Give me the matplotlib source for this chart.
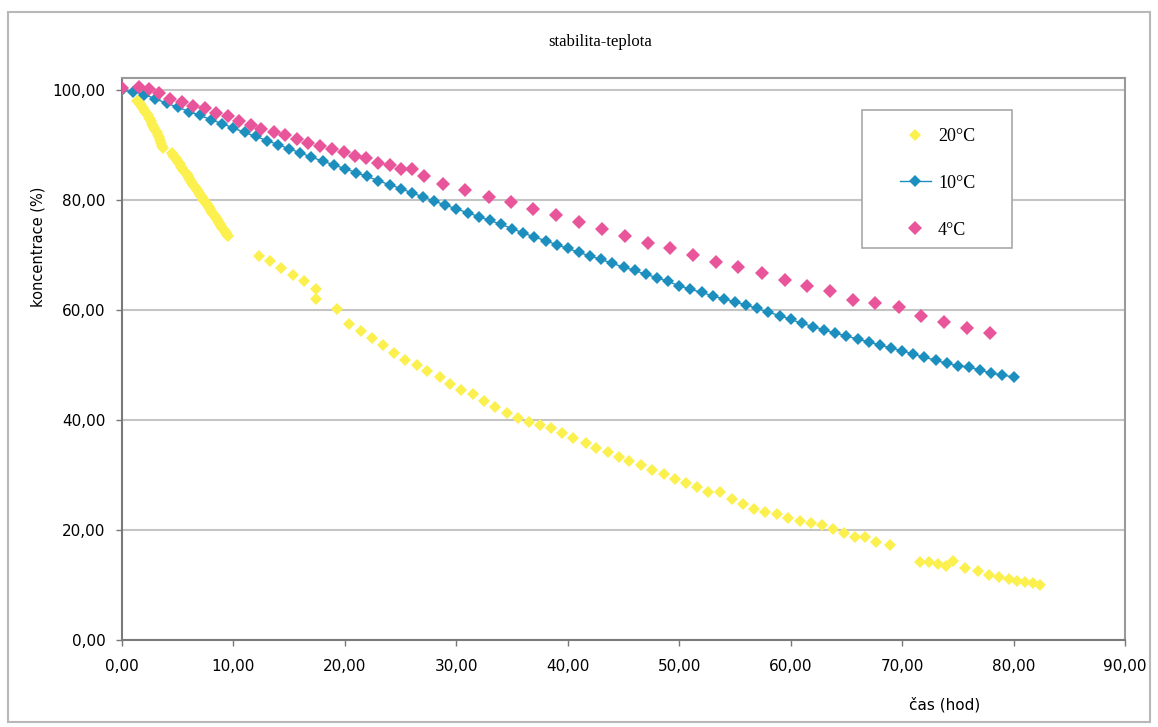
import matplotlib
matplotlib.use('Agg')
import matplotlib.pyplot as plt
from matplotlib.patches import Rectangle
from matplotlib.ticker import FuncFormatter

# 20 °C - fast decay, sampled densely in the first hours
t20 = [0.0,
       1.3, 1.4, 1.5, 1.6, 1.7, 1.8, 1.9, 2.0, 2.1, 2.2, 2.3, 2.4, 2.5,
       2.6, 2.7, 2.8, 2.9, 3.0, 3.1, 3.2, 3.3, 3.4, 3.5, 3.6, 3.7,
       4.5, 4.6, 4.7, 4.8, 4.9, 5.0, 5.1, 5.2, 5.3, 5.4, 5.5, 5.6, 5.7,
       5.8, 5.9, 6.0, 6.1, 6.2, 6.3, 6.4, 6.5, 6.6, 6.7, 6.8, 6.9, 7.0,
       7.1, 7.2, 7.3, 7.4, 7.5, 7.6, 7.7, 7.8, 7.9, 8.0, 8.1, 8.2, 8.3,
       8.4, 8.5, 8.6, 8.7, 8.8, 8.9, 9.0, 9.1, 9.2, 9.3, 9.4, 9.5,
       12.3, 13.3, 14.3, 15.3, 16.3, 17.4, 17.4, 19.3, 20.4, 21.4, 22.4,
       23.4, 24.4, 25.4, 26.5, 27.4, 28.5, 29.4, 30.4, 31.5, 32.5, 33.5,
       34.5, 35.5, 36.5, 37.5, 38.5, 39.5, 40.5, 41.6, 42.5, 43.6, 44.6,
       45.5, 46.6, 47.6, 48.6, 49.6, 50.6, 51.6, 52.6, 53.7, 54.7, 55.7,
       56.7, 57.7, 58.8, 59.8, 60.8, 61.8, 62.8, 63.8, 64.8, 65.8, 66.7,
       67.7, 68.9, 71.6, 72.4, 73.2, 73.9, 74.6, 75.6, 76.8, 77.8, 78.7,
       79.6, 80.3, 81.0, 81.7, 82.4]
c20 = [100.0,
       98.1, 98.0, 97.8, 97.5, 97.3, 97.0, 96.7, 96.4, 96.1, 95.7, 95.4, 95.0, 94.7,
       94.3, 93.9, 93.5, 93.1, 92.7, 92.3, 91.8, 91.4, 90.9, 90.4, 89.9, 89.5,
       88.5, 88.2, 87.9, 87.7, 87.3, 87.0, 86.7, 86.5, 86.1, 85.8, 85.5, 85.2, 84.9,
       84.7, 84.3, 84.0, 83.7, 83.5, 83.1, 82.8, 82.5, 82.2, 81.9, 81.7, 81.3, 81.0,
       80.7, 80.5, 80.1, 79.8, 79.5, 79.2, 78.9, 78.7, 78.3, 78.0, 77.7, 77.5, 77.1,
       76.8, 76.5, 76.2, 75.9, 75.7, 75.3, 75.0, 74.7, 74.4, 74.1, 73.7, 73.4,
       69.8, 68.9, 67.7, 66.4, 65.2, 63.8, 62.1, 60.2, 57.4, 56.2, 55.0,
       53.6, 52.1, 51.0, 50.0, 48.9, 47.8, 46.5, 45.5, 44.7, 43.5, 42.4,
       41.3, 40.4, 39.7, 39.1, 38.5, 37.6, 36.7, 35.8, 35.0, 34.2, 33.3,
       32.6, 31.8, 31.0, 30.2, 29.2, 28.5, 27.8, 27.0, 27.0, 25.7, 24.7,
       23.9, 23.3, 22.9, 22.2, 21.7, 21.3, 20.9, 20.1, 19.4, 18.8, 18.7,
       17.9, 17.3, 14.2, 14.2, 13.9, 13.5, 14.4, 13.1, 12.6, 11.8, 11.4,
       11.0, 10.7, 10.5, 10.3, 10.0]

# 10 °C - hourly
t10 = list(range(0, 81))
c10 = [100.0, 99.7, 99.2, 98.4, 97.6, 96.9, 96.1, 95.4, 94.6, 93.9,
       93.1, 92.3, 91.6, 90.8, 90.1, 89.3, 88.6, 87.8, 87.1, 86.4,
       85.7, 85.0, 84.3, 83.5, 82.8, 82.1, 81.3, 80.6, 79.8, 79.1,
       78.4, 77.7, 77.0, 76.3, 75.6, 74.8, 74.0, 73.3, 72.6, 71.9,
       71.2, 70.5, 69.8, 69.2, 68.5, 67.8, 67.2, 66.5, 65.9, 65.2,
       64.4, 63.8, 63.2, 62.6, 62.0, 61.5, 60.9, 60.3, 59.6, 59.0,
       58.3, 57.6, 57.0, 56.4, 55.8, 55.3, 54.7, 54.2, 53.6, 53.1,
       52.6, 52.0, 51.4, 50.9, 50.3, 49.9, 49.6, 49.1, 48.5, 48.2,
       47.8]

# 4 °C
t4 = [0.0, 1.5, 2.4, 3.3, 4.3, 5.4, 6.4, 7.4, 8.4, 9.5, 10.5, 11.6, 12.5,
      13.6, 14.6, 15.7, 16.7, 17.8, 18.8, 19.9, 20.9, 21.9, 23.0, 24.0,
      25.0, 26.0, 27.1, 28.8, 30.8, 32.9, 34.9, 36.9, 38.9, 41.0, 43.1,
      45.1, 47.2, 49.2, 51.2, 53.3, 55.3, 57.4, 59.5, 61.5, 63.5, 65.6,
      67.6, 69.7, 71.7, 73.8, 75.8, 77.9]
c4 = [100.3, 100.6, 100.2, 99.4, 98.4, 97.8, 97.1, 96.7, 95.9, 95.3,
      94.4, 93.6, 93.0, 92.4, 91.8, 91.1, 90.4, 89.9, 89.3, 88.7,
      88.0, 87.7, 86.8, 86.4, 85.6, 85.6, 84.4, 83.0, 81.8, 80.6,
      79.7, 78.4, 77.2, 76.1, 74.8, 73.5, 72.2, 71.3, 70.1, 68.8,
      67.9, 66.8, 65.5, 64.4, 63.5, 61.8, 61.2, 60.6, 58.9, 57.9,
      56.8, 55.8]

x_ticks = [0, 10, 20, 30, 40, 50, 60, 70, 80, 90]
y_ticks = [0, 20, 40, 60, 80, 100]

fig = plt.figure(figsize=(11.58, 7.27), dpi=100)
ax = fig.add_axes([0.1054, 0.1197, 0.8661, 0.7730])

# outer chart frame
fig.patches.append(Rectangle((0.007, 0.007), 0.986, 0.976, transform=fig.transFigure,
                             fill=False, edgecolor='#b8b8b8', linewidth=1.5))

ax.plot(t20, c20, linestyle='none', marker='D', ms=6.5, color='#fbf04e',
        markeredgewidth=0, label='20°C', zorder=3)
ax.plot(t10, c10, linestyle='-', linewidth=1.0, color='#1d8fbf', marker='D', ms=6,
        markeredgewidth=0, label='10°C', zorder=4)
ax.plot(t4, c4, linestyle='none', marker='D', ms=7, color='#e8559b',
        markeredgewidth=0, label='4°C', zorder=5)

ax.set_xlim(0, 90)
ax.set_ylim(0, 102.2)
ax.set_xticks(x_ticks)
ax.set_yticks(y_ticks)
fmt = FuncFormatter(lambda v, p: f'{v:.2f}'.replace('.', ','))
ax.xaxis.set_major_formatter(fmt)
ax.yaxis.set_major_formatter(fmt)
ax.tick_params(axis='both', labelsize=11, length=4, width=1, color='#777777')
ax.tick_params(axis='x', pad=10)
ax.tick_params(axis='y', pad=8)

ax.grid(axis='y', color='#c4c4c4', linewidth=1.5)
ax.set_axisbelow(True)
for side in ['left', 'bottom']:
    ax.spines[side].set_color('#7a7a7a')
    ax.spines[side].set_linewidth(1.5)
for side in ['top', 'right']:
    ax.spines[side].set_color('#9a9a9a')
    ax.spines[side].set_linewidth(1.5)

fig.text(0.518, 0.942, 'stabilita-teplota', ha='center', va='center',
         family='Liberation Serif', fontsize=12)
fig.text(0.033, 0.66, 'koncentrace (%)', ha='center', va='center', rotation=90,
         fontsize=10.5)
fig.text(0.816, 0.030, 'čas (hod)', ha='center', va='center', fontsize=11)

# legend box drawn separately so the padding can be wider than tall
ax.add_patch(Rectangle((0.7378, 0.6975), 0.1496, 0.2456, transform=ax.transAxes,
                       facecolor='white', edgecolor='#a8a8a8', linewidth=1.2,
                       zorder=6))
leg = ax.legend(loc='upper left', bbox_to_anchor=(0.7757, 0.911),
                prop={'family': 'Liberation Serif', 'size': 13},
                labelspacing=1.65, borderpad=0, handlelength=1.7,
                handletextpad=0.4, frameon=False, borderaxespad=0)
leg.set_zorder(7)

fig.savefig('out.png', dpi=100)
